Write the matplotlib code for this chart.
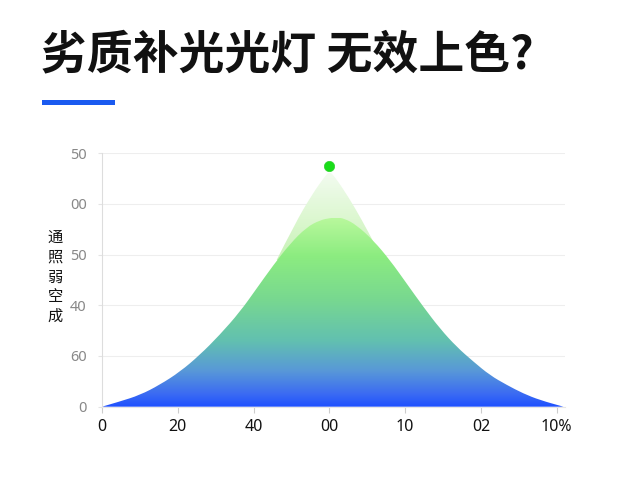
import numpy as np
import matplotlib
matplotlib.use("Agg")
import matplotlib.pyplot as plt
from matplotlib.colors import LinearSegmentedColormap
from matplotlib.patches import Rectangle, PathPatch
from matplotlib.path import Path

plt.rcParams['font.family'] = ['Noto Sans CJK SC', 'DejaVu Sans']

# === data ===
title = "劣质补光光灯 无效上色?"
ylabel = "通照弱空成"
x_ticks = [0, 1, 2, 3, 4, 5, 6]
x_labels = ["0", "20", "40", "00", "10", "02", "10%"]
y_ticks = [0, 1, 2, 3, 4, 5]
y_labels = ["0", "60", "40", "50", "00", "50"]

curve_x = [0, 0.23, 0.50, 0.76, 1.03, 1.29, 1.55, 1.82, 2.04, 2.26, 2.48,
           2.70, 2.88, 3.01, 3.10, 3.20, 3.36, 3.58, 3.80, 4.02, 4.24, 4.46,
           4.68, 4.90, 5.12, 5.34, 5.56, 5.78, 6.09]
curve_y = [0, 0.10, 0.23, 0.43, 0.69, 1.02, 1.41, 1.87, 2.33, 2.79, 3.21,
           3.54, 3.68, 3.72, 3.73, 3.71, 3.58, 3.28, 2.89, 2.43, 1.97, 1.54,
           1.18, 0.89, 0.62, 0.43, 0.26, 0.13, 0]

peak_x = [2.28, 2.55, 2.77, 2.94, 3.00, 3.07, 3.25, 3.43, 3.60]
peak_y = [2.82, 3.62, 4.18, 4.54, 4.64, 4.54, 4.14, 3.68, 3.20]

dot_x, dot_y = 3.0, 4.75


def smooth_area(xs, ys):
    # closed area under a line drawn with quadratic bezier pieces through midpoints
    verts = [(xs[0], 0), (xs[0], ys[0])]
    codes = [Path.MOVETO, Path.LINETO]
    for i in range(1, len(xs) - 1):
        mx = (xs[i] + xs[i + 1]) / 2
        my = (ys[i] + ys[i + 1]) / 2
        verts += [(xs[i], ys[i]), (mx, my)]
        codes += [Path.CURVE3, Path.CURVE3]
    verts += [(xs[-1], ys[-1]), (xs[-1], 0), (xs[0], 0)]
    codes += [Path.LINETO, Path.LINETO, Path.CLOSEPOLY]
    return Path(verts, codes)


# === figure ===
fig = plt.figure(figsize=(6.4, 4.8), dpi=100)
ax = fig.add_axes([0.1594, 0.1527, 0.7234, 0.5283])
ax.set_xlim(0, 6.11)
ax.set_ylim(0, 5)

for v in y_ticks[1:]:
    ax.axhline(v, color="#eeeeee", lw=0.8, zorder=0)

grad = np.linspace(0, 1, 256).reshape(-1, 1)

# light peak shape
peak_cmap = LinearSegmentedColormap.from_list(
    "peak", [(0, "#c8f2b6"), (0.45, "#dcf7d0"), (1, "#f5fcf3")])
patch = PathPatch(smooth_area(peak_x, peak_y), facecolor="none", lw=0,
                  transform=ax.transData)
ax.add_patch(patch)
im = ax.imshow(grad, cmap=peak_cmap, aspect="auto", origin="lower",
               extent=[0, 6.11, 2.9, 4.7], zorder=1)
im.set_clip_path(patch)

# main gradient area
main_cmap = LinearSegmentedColormap.from_list(
    "main", [(0, "#1e50ff"), (0.07, "#3c6cf2"), (0.19, "#5898d8"),
             (0.35, "#62c0b0"), (0.57, "#78d890"), (0.8, "#8cec80"),
             (1, "#b8f89c")])
patch2 = PathPatch(smooth_area(curve_x, curve_y), facecolor="none", lw=0,
                   transform=ax.transData)
ax.add_patch(patch2)
im2 = ax.imshow(grad, cmap=main_cmap, aspect="auto", origin="lower",
                extent=[0, 6.11, 0, 3.72], zorder=2)
im2.set_clip_path(patch2)

ax.scatter([dot_x], [dot_y], s=55, color="#19dd19", edgecolor="#2fcf2f",
           lw=0.5, zorder=4, clip_on=False)

ax.set_xticks(x_ticks)
ax.set_xticklabels(x_labels, fontsize=11.5, color="#111111",
                   family=["Noto Sans", "DejaVu Sans"])
ax.set_yticks(y_ticks)
ax.set_yticklabels(y_labels, fontsize=10.5, color="#888888",
                   family=["Noto Sans", "DejaVu Sans"])
ax.tick_params(axis="x", length=4, color="#cccccc", pad=5)
ax.tick_params(axis="y", length=3, color="#e4e4e4", pad=8)
for s in ["top", "right"]:
    ax.spines[s].set_visible(False)
ax.spines["left"].set_color("#dddddd")
ax.spines["bottom"].set_color("#e6e6e6")

fig.text(0.086, 0.423, "\n".join(ylabel), fontsize=11, ha="center",
         va="center", linespacing=1.2, color="#111111")

fig.text(0.064, 0.885, title, fontsize=33, fontweight="bold", ha="left",
         va="center", color="#111111")
fig.add_artist(Rectangle((0.0656, 0.781), 0.114, 0.0104,
                         transform=fig.transFigure, color="#1a5af0", lw=0))

fig.savefig("out.png", dpi=100)
